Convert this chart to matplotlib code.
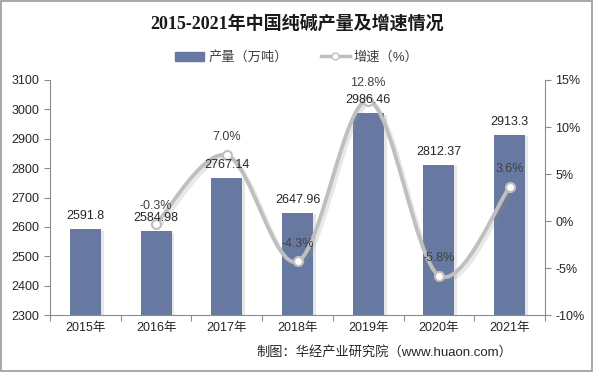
import matplotlib
matplotlib.use('Agg')
import matplotlib.pyplot as plt
import matplotlib.patheffects as pe
from matplotlib.path import Path
from matplotlib.patches import PathPatch, Rectangle
from matplotlib.lines import Line2D

plt.rcParams['font.family'] = ['Liberation Sans', 'Noto Sans CJK SC', 'DejaVu Sans']

years = ['2015年', '2016年', '2017年', '2018年', '2019年', '2020年', '2021年']
output = [2591.8, 2584.98, 2767.14, 2647.96, 2986.46, 2812.37, 2913.3]
output_labels = ['2591.8', '2584.98', '2767.14', '2647.96', '2986.46', '2812.37', '2913.3']
growth_years = [1, 2, 3, 4, 5, 6]
growth = [-0.3, 7.0, -4.3, 12.8, -5.8, 3.6]

bar_color = '#6779A1'
line_color = '#BFBFBF'
axis_color = '#8C8C8C'

fig = plt.figure(figsize=(5.94, 3.72), dpi=100)
fig.patches.append(Rectangle((0.002, 0.003), 0.995, 0.994, transform=fig.transFigure,
                             fill=False, edgecolor='#9A9A9A', linewidth=1.2))

ax = fig.add_axes([0.0842, 0.153, 0.8333, 0.632])
ax2 = ax.twinx()

x = list(range(len(years)))
bars = ax.bar(x, output, width=0.44, color=bar_color, zorder=2,
              path_effects=[pe.SimplePatchShadow(offset=(2, -1), shadow_rgbFace='#b0b0b0', alpha=0.3),
                            pe.Normal()])

ax.set_ylim(2300, 3100)
ax.set_yticks(range(2300, 3101, 100))
ax.set_xlim(-0.5, len(years) - 0.5)
ax.set_xticks([i + 0.5 for i in range(-1, len(years))])
ax.set_xticklabels([])
ax.set_xticks(x, minor=True)
ax.set_xticklabels(years, minor=True)
ax.tick_params(axis='x', which='major', length=4, color=axis_color)
ax.tick_params(axis='x', which='minor', length=0, labelsize=9, pad=5, labelcolor='#262626')
ax.tick_params(axis='y', length=4, color=axis_color, labelsize=9, labelcolor='#262626')
for s in ['top', 'right']:
    ax.spines[s].set_visible(False)
ax.spines['left'].set_color(axis_color)
ax.spines['bottom'].set_color(axis_color)

# smoothed growth line (Catmull-Rom style bezier through the data points)
pts = list(zip(growth_years, growth))
verts = [pts[0]]
codes = [Path.MOVETO]
for i in range(len(pts) - 1):
    p0 = pts[i - 1] if i > 0 else pts[i]
    p1 = pts[i]
    p2 = pts[i + 1]
    p3 = pts[i + 2] if i + 2 < len(pts) else pts[i + 1]
    c1 = (p1[0] + (p2[0] - p0[0]) / 6, p1[1] + (p2[1] - p0[1]) / 6)
    c2 = (p2[0] - (p3[0] - p1[0]) / 6, p2[1] - (p3[1] - p1[1]) / 6)
    verts += [c1, c2, p2]
    codes += [Path.CURVE4] * 3
curve = PathPatch(Path(verts, codes), fill=False, edgecolor=line_color, linewidth=2.8, zorder=3,
                  path_effects=[pe.SimpleLineShadow(offset=(2, -2), shadow_color='#909090', alpha=0.2),
                                pe.Normal()])
ax2.add_patch(curve)
ax2.plot(growth_years, growth, linestyle='none', marker='o', markersize=6.5,
         markerfacecolor='white', markeredgecolor=line_color, markeredgewidth=1.5, zorder=4)
for xi, g in zip(growth_years, growth):
    ax2.annotate('%.1f%%' % g, (xi, g), xytext=(0, 8.5), textcoords='offset points',
                 ha='center', va='bottom', fontsize=9, color='#404040', zorder=5)

# bar value labels drawn on top of the line
for xi, v, lab in zip(x, output, output_labels):
    ax2.annotate(lab, (xi, v), xycoords=ax.transData, xytext=(0, 5), textcoords='offset points',
                 ha='center', va='bottom', fontsize=9, color='#262626', zorder=6)

ax2.set_ylim(-10, 15)
ax2.set_yticks(range(-10, 16, 5))
ax2.set_yticklabels(['%d%%' % t for t in range(-10, 16, 5)])
ax2.tick_params(axis='y', length=4, color=axis_color, labelsize=9, labelcolor='#262626')
for s in ['top', 'left', 'bottom']:
    ax2.spines[s].set_visible(False)
ax2.spines['right'].set_color(axis_color)

fig.text(0.5, 0.935, '2015-2021年中国纯碱产量及增速情况', ha='center', va='center',
         fontsize=13, fontweight='bold', color='#1a1a1a',
         family=['Liberation Serif', 'Noto Sans CJK SC'])

handles = [Rectangle((0, 0), 1, 1, color=bar_color),
           Line2D([], [], color=line_color, linewidth=2.5, marker='o', markersize=5,
                  markerfacecolor='white', markeredgecolor=line_color)]
fig.legend(handles, ['产量（万吨）', '增速（%）'], loc='center', bbox_to_anchor=(0.5, 0.845),
           ncol=2, frameon=False, fontsize=9.5, handlelength=2.2, columnspacing=2.5,
           handletextpad=0.3, labelcolor='#404040')

fig.text(0.862, 0.052, '制图：华经产业研究院（www.huaon.com）', ha='right', va='center',
         fontsize=9.5, color='#262626')

fig.savefig('out.png', dpi=100)
